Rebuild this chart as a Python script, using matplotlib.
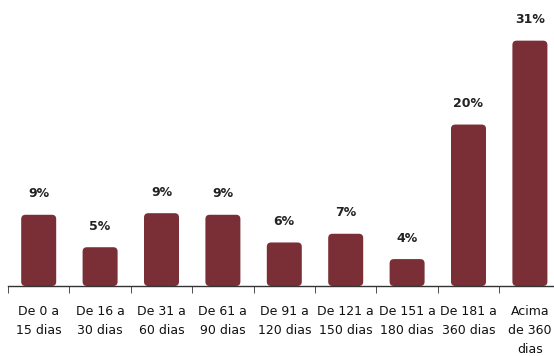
import matplotlib
matplotlib.use("Agg")
import matplotlib.pyplot as plt
from matplotlib.patches import FancyBboxPatch

categories = ["De 0 a\n15 dias", "De 16 a\n30 dias", "De 31 a\n60 dias", "De 61 a\n90 dias",
              "De 91 a\n120 dias", "De 121 a\n150 dias", "De 151 a\n180 dias",
              "De 181 a\n360 dias", "Acima\nde 360\ndias"]
values = [9.0, 4.9, 9.2, 9.0, 5.5, 6.6, 3.4, 20.4, 31.0]
labels = ["9%", "5%", "9%", "9%", "6%", "7%", "4%", "20%", "31%"]

color = "#7A2E35"

fig = plt.figure(figsize=(5.54, 3.56), dpi=100)
ax = fig.add_axes([8/554, 70/356, 546/554, 277/356])

x = list(range(len(categories)))
bars = ax.bar(x, values, width=0.57, color=color)
xspan = 546 / 61.4
ax.set_xlim(-0.5, -0.5 + xspan)
ax.set_ylim(0, 35)

# replace the bars with rounded-corner versions
xr = 0.07
yr = xr * (35 / 277) / (xspan / 546)
for b in bars:
    b.set_visible(False)
    p = FancyBboxPatch((b.get_x(), b.get_y()), b.get_width(), b.get_height(),
                       boxstyle=f"round,pad=0,rounding_size={xr}",
                       mutation_aspect=yr / xr, facecolor=color, edgecolor="none")
    ax.add_patch(p)

for xi, v, lab in zip(x, values, labels):
    ax.annotate(lab, (xi, v), xytext=(0, 15), textcoords="offset points",
                ha="center", va="center", fontsize=9, fontweight="bold", color="#222222")

for s in ["top", "right", "left"]:
    ax.spines[s].set_visible(False)
ax.spines["bottom"].set_color("#333333")
ax.spines["bottom"].set_linewidth(1.0)
ax.set_yticks([])

ax.set_xticks(x)
ax.set_xticklabels(categories, fontsize=9, color="#111111", linespacing=1.6)
ax.tick_params(axis="x", which="major", length=0, pad=14)
ax.set_xticks([i - 0.5 for i in range(len(categories))], minor=True)
ax.tick_params(axis="x", which="minor", length=5, direction="out", color="#333333")

fig.savefig("out.png", dpi=100)
